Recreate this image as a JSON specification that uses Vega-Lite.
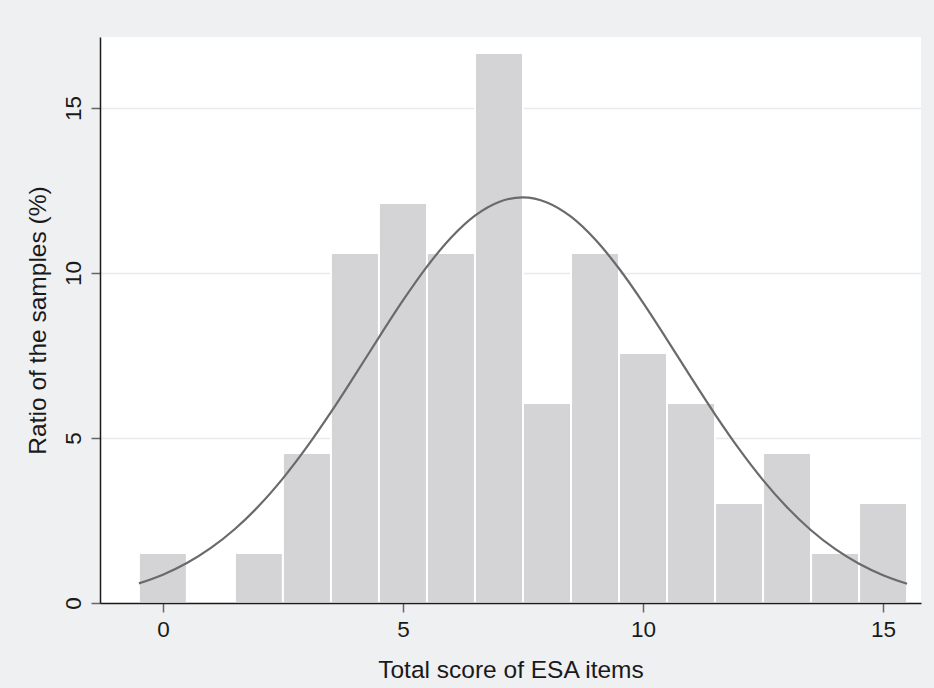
{
  "$schema": "https://vega.github.io/schema/vega-lite/v6.json",
  "width": 821,
  "height": 566,
  "autosize": {"type": "none"},
  "padding": {"left": 100, "top": 37, "right": 13, "bottom": 85},
  "background": "#EFF0F2",
  "config": {
    "view": {"fill": "#FFFFFF", "stroke": null},
    "font": "Liberation Sans",
    "axis": {
      "labelFont": "Liberation Sans",
      "titleFont": "Liberation Sans",
      "labelFontSize": 22.5,
      "titleFontSize": 24.5,
      "titleFontWeight": "normal",
      "labelColor": "#1a1a1a",
      "titleColor": "#1a1a1a",
      "domainColor": "#1a1a1a",
      "domainWidth": 1.5,
      "tickColor": "#666666",
      "tickWidth": 1.5,
      "tickSize": 9,
      "gridColor": "#EAEAEA",
      "gridWidth": 1.5
    }
  },
  "datasets": {
    "bins": [
      {"score": 0, "pct": 1.515},
      {"score": 1, "pct": 0},
      {"score": 2, "pct": 1.515},
      {"score": 3, "pct": 4.545},
      {"score": 4, "pct": 10.606},
      {"score": 5, "pct": 12.121},
      {"score": 6, "pct": 10.606},
      {"score": 7, "pct": 16.667},
      {"score": 8, "pct": 6.061},
      {"score": 9, "pct": 10.606},
      {"score": 10, "pct": 7.576},
      {"score": 11, "pct": 6.061},
      {"score": 12, "pct": 3.030},
      {"score": 13, "pct": 4.545},
      {"score": 14, "pct": 1.515},
      {"score": 15, "pct": 3.030}
    ],
    "curve": [
      {"x": -0.5, "y": 0.595},
      {"x": 0, "y": 0.859},
      {"x": 0.5, "y": 1.211},
      {"x": 1, "y": 1.669},
      {"x": 1.5, "y": 2.243},
      {"x": 2, "y": 2.945},
      {"x": 2.5, "y": 3.777},
      {"x": 3, "y": 4.728},
      {"x": 3.5, "y": 5.781},
      {"x": 4, "y": 6.904},
      {"x": 4.5, "y": 8.050},
      {"x": 5, "y": 9.167},
      {"x": 5.5, "y": 10.193},
      {"x": 6, "y": 11.068},
      {"x": 6.5, "y": 11.737},
      {"x": 7, "y": 12.153},
      {"x": 7.5, "y": 12.29},
      {"x": 8, "y": 12.136},
      {"x": 8.5, "y": 11.704},
      {"x": 9, "y": 11.020},
      {"x": 9.5, "y": 10.135},
      {"x": 10, "y": 9.102},
      {"x": 10.5, "y": 7.982},
      {"x": 11, "y": 6.836},
      {"x": 11.5, "y": 5.717},
      {"x": 12, "y": 4.669},
      {"x": 12.5, "y": 3.723},
      {"x": 13, "y": 2.899},
      {"x": 13.5, "y": 2.205},
      {"x": 14, "y": 1.638},
      {"x": 14.5, "y": 1.188},
      {"x": 15, "y": 0.842},
      {"x": 15.5, "y": 0.582}
    ]
  },
  "layer": [
    {
      "data": {"name": "bins"},
      "transform": [
        {"filter": "datum.pct > 0"},
        {"calculate": "datum.score - 0.5", "as": "lo"},
        {"calculate": "datum.score + 0.5", "as": "hi"}
      ],
      "mark": {"type": "rect", "fill": "#D4D4D6", "stroke": "#FFFFFF", "strokeWidth": 2},
      "encoding": {
        "x": {
          "field": "lo",
          "type": "quantitative",
          "scale": {"domain": [-1.31, 15.79], "nice": false, "zero": false},
          "axis": {
            "title": "Total score of ESA items",
            "values": [0, 5, 10, 15],
            "grid": false,
            "zindex": 1,
            "labelPadding": 6,
            "titlePadding": 18
          }
        },
        "x2": {"field": "hi"},
        "y": {
          "field": "pct",
          "type": "quantitative",
          "scale": {"domain": [0, 17.15], "nice": false},
          "axis": {
            "title": "Ratio of the samples (%)",
            "values": [0, 5, 10, 15],
            "grid": true,
            "labelAngle": -90,
            "labelAlign": "center",
            "labelBaseline": "bottom",
            "labelPadding": 6,
            "titlePadding": 12
          }
        },
        "y2": {"datum": 0}
      }
    },
    {
      "data": {"name": "curve"},
      "mark": {"type": "line", "color": "#6A6A6A", "strokeWidth": 2.2, "interpolate": "monotone"},
      "encoding": {
        "x": {"field": "x", "type": "quantitative"},
        "y": {"field": "y", "type": "quantitative"}
      }
    }
  ]
}
